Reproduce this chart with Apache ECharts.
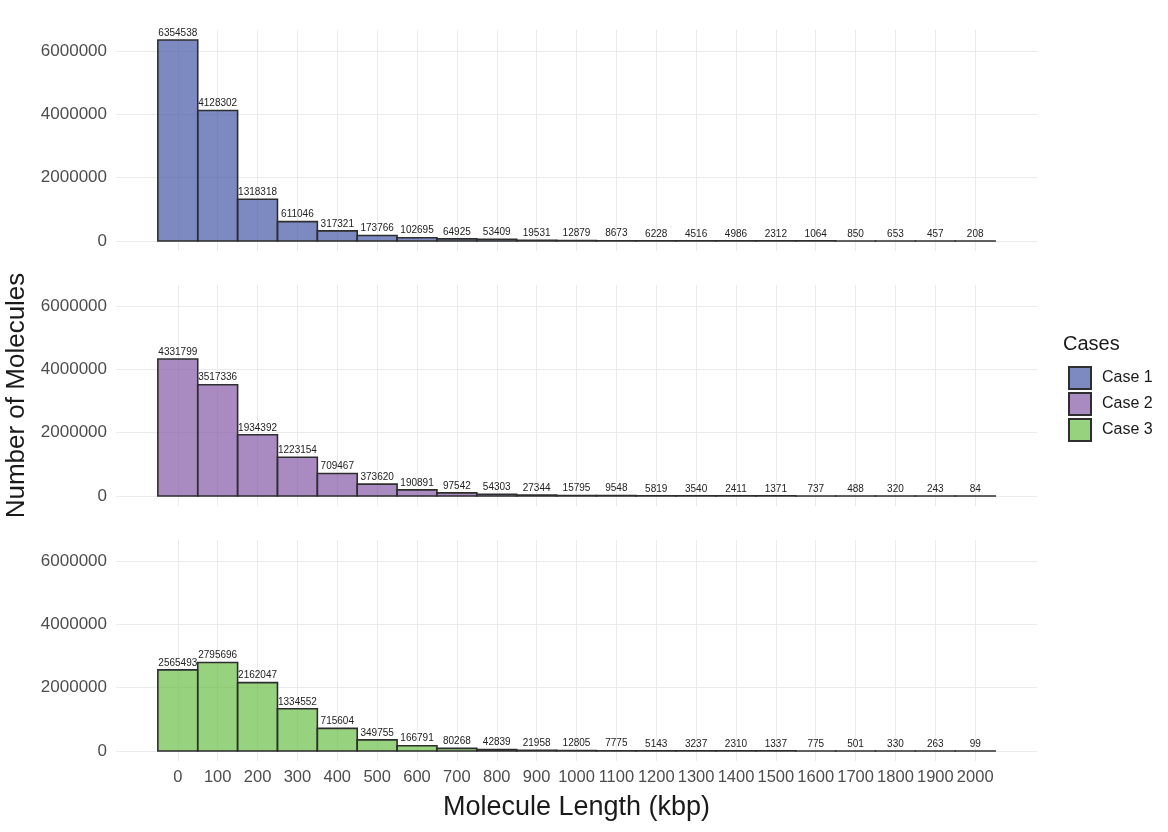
<!DOCTYPE html>
<html>
<head>
    <meta charset="UTF-8">
    <title>Molecule Length</title>
    <script src="https://cdn.jsdelivr.net/npm/echarts@6/dist/echarts.min.js"></script>
    <style>
        html, body { margin: 0; padding: 0; background: #fff; }
        #chart { width: 1168px; height: 832px; }
    </style>
</head>
<body>
<div id="chart"></div>
<script>
    // bin centres (kbp)
    var lengths = [0, 100, 200, 300, 400, 500, 600, 700, 800, 900, 1000,
        1100, 1200, 1300, 1400, 1500, 1600, 1700, 1800, 1900, 2000];
    var case1 = [6354538, 4128302, 1318318, 611046, 317321, 173766, 102695, 64925, 53409, 19531, 12879,
        8673, 6228, 4516, 4986, 2312, 1064, 850, 653, 457, 208];
    var case2 = [4331799, 3517336, 1934392, 1223154, 709467, 373620, 190891, 97542, 54303, 27344, 15795,
        9548, 5819, 3540, 2411, 1371, 737, 488, 320, 243, 84];
    var case3 = [2565493, 2795696, 2162047, 1334552, 715604, 349755, 166791, 80268, 42839, 21958, 12805,
        7775, 5143, 3237, 2310, 1337, 775, 501, 330, 263, 99];
    var caseNames = ['Case 1', 'Case 2', 'Case 3'];
    var binWidth = 100;

    var FONT = '"Liberation Sans", Arial, Helvetica, sans-serif';
    var fills = ['rgba(62, 82, 163, 0.68)', 'rgba(128, 84, 164, 0.68)', 'rgba(102, 188, 66, 0.68)'];
    var gridGrey = '#ebebeb';
    var panelTops = [30, 285, 540];
    var panelH = 221;

    var chart = echarts.init(document.getElementById('chart'));

    var allCases = [case1, case2, case3];
    var yMax = Math.max.apply(null, case1.concat(case2, case3));
    var yPad = yMax * 0.05;
    var xFirst = lengths[0], xLast = lengths[lengths.length - 1];
    var xLo = xFirst - binWidth / 2, xHi = xLast + binWidth / 2;
    var xPad = (xHi - xLo) * 0.05;

    // vertical grid only at the breaks 0..2000 (the -100 / 2100 ticks stay invisible)
    var xLineColors = ['rgba(0,0,0,0)'];
    lengths.forEach(function () { xLineColors.push(gridGrey); });
    xLineColors.push('rgba(0,0,0,0)');

    function plain(v) { return String(v); }
    function xLabel(v) { return (v < xFirst || v > xLast) ? '' : String(v); }

    function makeRender(fill) {
        return function (params, api) {
            var x = api.value(0), y = api.value(1);
            var tl = api.coord([x - binWidth / 2, y]);
            var br = api.coord([x + binWidth / 2, 0]);
            return {
                type: 'group',
                children: [{
                    type: 'rect',
                    shape: { x: tl[0], y: tl[1], width: br[0] - tl[0], height: br[1] - tl[1] },
                    style: { fill: fill, stroke: '#2e2e2e', lineWidth: 1.6 }
                }, {
                    type: 'text',
                    style: {
                        text: String(y), x: (tl[0] + br[0]) / 2, y: tl[1] - 2,
                        align: 'center', verticalAlign: 'bottom',
                        fill: '#222', font: '10px ' + FONT
                    }
                }]
            };
        };
    }

    var grids = [], xAxes = [], yAxes = [], series = [];
    for (var i = 0; i < 3; i++) {
        grids.push({ left: 116, width: 921, top: panelTops[i], height: panelH, outerBoundsMode: 'none', containLabel: false });
        xAxes.push({
            gridIndex: i, type: 'value', min: xLo - xPad, max: xHi + xPad,
            minInterval: 100, maxInterval: 100,
            axisLine: { show: false }, axisTick: { show: false },
            axisLabel: {
                show: i === 2, showMinLabel: false, showMaxLabel: false,
                formatter: xLabel, fontSize: 16.5, color: '#4d4d4d', fontFamily: FONT, margin: 8
            },
            splitLine: { showMinLine: false, showMaxLine: false, lineStyle: { color: xLineColors, width: 1 } },
            name: i === 2 ? 'Molecule Length (kbp)' : '',
            nameLocation: 'middle', nameGap: 33,
            nameTextStyle: { fontSize: 27, color: '#1a1a1a', fontFamily: FONT }
        });
        yAxes.push({
            gridIndex: i, type: 'value', min: -yPad, max: yMax + yPad,
            minInterval: 2000000, maxInterval: 2000000,
            axisLine: { show: false }, axisTick: { show: false },
            axisLabel: {
                showMinLabel: false, showMaxLabel: false,
                formatter: plain, fontSize: 17, color: '#4d4d4d', fontFamily: FONT, margin: 9
            },
            splitLine: { showMinLine: false, showMaxLine: false, lineStyle: { color: gridGrey, width: 1 } },
            name: i === 1 ? 'Number of Molecules' : '',
            nameLocation: 'middle', nameGap: 83,
            nameTextStyle: { fontSize: 26, color: '#1a1a1a', fontFamily: FONT }
        });
        series.push({
            name: caseNames[i],
            type: 'custom',
            xAxisIndex: i, yAxisIndex: i,
            renderItem: makeRender(fills[i]),
            itemStyle: { color: fills[i], borderColor: '#2e2e2e', borderWidth: 1.6 },
            encode: { x: 0, y: 1 },
            data: lengths.map(function (l, k) { return [l, allCases[i][k]]; })
        });
    }

    chart.setOption({
        animation: false,
        title: {
            text: 'Cases', left: 1063, top: 334, padding: 0,
            textStyle: { fontSize: 20, fontWeight: 'normal', color: '#1a1a1a', fontFamily: FONT }
        },
        legend: {
            orient: 'vertical', left: 1068, top: 366, padding: 0,
            itemWidth: 22, itemHeight: 22, itemGap: 2, icon: 'rect',
            data: caseNames,
            textStyle: { fontSize: 16, color: '#1a1a1a', fontFamily: FONT, padding: [0, 0, 0, 6] }
        },
        grid: grids,
        xAxis: xAxes,
        yAxis: yAxes,
        series: series
    });
</script>
</body>
</html>
